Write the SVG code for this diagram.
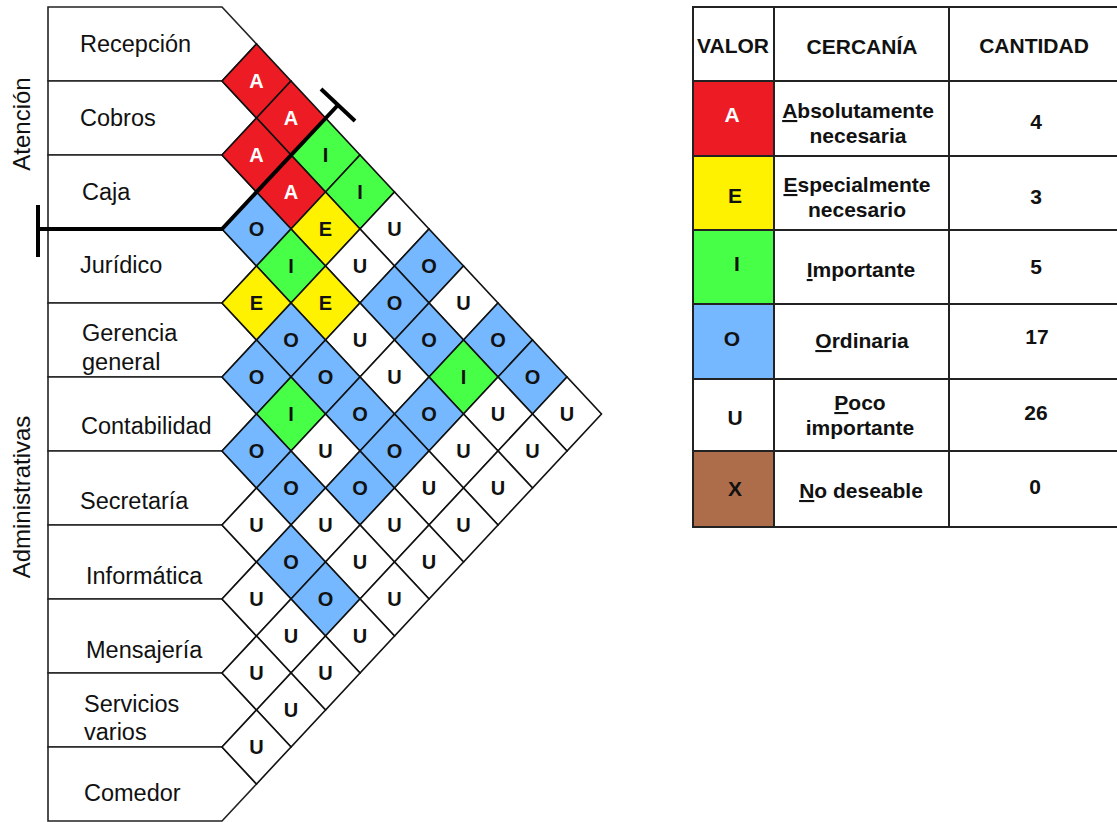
<svg xmlns="http://www.w3.org/2000/svg" xmlns:xlink="http://www.w3.org/1999/xlink" width="1117" height="822" viewBox="0 0 1117 822">
<style>
.row polygon{fill:#fff;stroke:#222;stroke-width:1.6}
.lbl{font-family:"Liberation Sans",Arial,sans-serif;font-size:23.5px;fill:#111}
.vl{font-family:"Liberation Sans",Arial,sans-serif;font-size:24px;fill:#111;text-anchor:middle}
.cell use{stroke:#111;stroke-width:1.6}
.cell text{font-family:"Liberation Sans",Arial,sans-serif;font-weight:bold;font-size:20px;text-anchor:middle;fill:#111}
.A use{fill:#ED1C24}.A text{fill:#fff}
.E use{fill:#FFF200}
.I use{fill:#47FF47}
.O use{fill:#75B8FF}
.U use{fill:#fff}
.br{stroke:#000;stroke-width:4;fill:none}
.tc{stroke:#222;stroke-width:2}
.th{font-family:"Liberation Sans",Arial,sans-serif;font-weight:bold;font-size:21px;text-anchor:middle;fill:#111}
.tw{fill:#fff}
</style>
<defs>
<polygon id="dm" points="-34.5,0 0,-37 34.5,0 0,37"/>
</defs>
<rect width="1117" height="822" fill="#fff"/>

<g id="rows">
<g id="row-recepcion" class="row"><polygon points="48,7 222,7 256.5,44 222,81 48,81"/><text class="lbl" x="80" y="52">Recepción</text></g>
<g id="row-cobros" class="row"><polygon points="48,81 222,81 256.5,118 222,155 48,155"/><text class="lbl" x="80" y="126">Cobros</text></g>
<g id="row-caja" class="row"><polygon points="48,155 222,155 256.5,192 222,229 48,229"/><text class="lbl" x="82" y="200">Caja</text></g>
<g id="row-juridico" class="row"><polygon points="48,229 222,229 256.5,266 222,303 48,303"/><text class="lbl" x="80" y="273">Jurídico</text></g>
<g id="row-gerencia" class="row"><polygon points="48,303 222,303 256.5,340 222,377 48,377"/><text class="lbl" x="82" y="341">Gerencia</text><text class="lbl" x="82" y="370">general</text></g>
<g id="row-contabilidad" class="row"><polygon points="48,377 222,377 256.5,414 222,451 48,451"/><text class="lbl" x="81" y="434">Contabilidad</text></g>
<g id="row-secretaria" class="row"><polygon points="48,451 222,451 256.5,488 222,525 48,525"/><text class="lbl" x="80" y="509">Secretaría</text></g>
<g id="row-informatica" class="row"><polygon points="48,525 222,525 256.5,562 222,599 48,599"/><text class="lbl" x="86" y="584">Informática</text></g>
<g id="row-mensajeria" class="row"><polygon points="48,599 222,599 256.5,636 222,673 48,673"/><text class="lbl" x="86" y="658">Mensajería</text></g>
<g id="row-servicios" class="row"><polygon points="48,673 222,673 256.5,710 222,747 48,747"/><text class="lbl" x="84" y="712">Servicios</text><text class="lbl" x="84" y="740">varios</text></g>
<g id="row-comedor" class="row"><polygon points="48,747 222,747 256.5,784 222,821 48,821"/><text class="lbl" x="84" y="801">Comedor</text></g>
</g>

<g id="group-labels">
<text class="vl" transform="translate(30,124) rotate(-90)">Atención</text>
<text class="vl" transform="translate(30,497) rotate(-90)">Administrativas</text>
</g>

<g id="cells">
<g id="r0-1" class="cell A" transform="translate(256.5,81)"><use href="#dm"/><text y="7">A</text></g>
<g id="r0-2" class="cell A" transform="translate(291,118)"><use href="#dm"/><text y="7">A</text></g>
<g id="r1-2" class="cell A" transform="translate(256.5,155)"><use href="#dm"/><text y="7">A</text></g>
<g id="r0-3" class="cell I" transform="translate(325.5,155)"><use href="#dm"/><text y="7">I</text></g>
<g id="r1-3" class="cell A" transform="translate(291,192)"><use href="#dm"/><text y="7">A</text></g>
<g id="r0-4" class="cell I" transform="translate(360,192)"><use href="#dm"/><text y="7">I</text></g>
<g id="r2-3" class="cell O" transform="translate(256.5,229)"><use href="#dm"/><text y="7">O</text></g>
<g id="r1-4" class="cell E" transform="translate(325.5,229)"><use href="#dm"/><text y="7">E</text></g>
<g id="r0-5" class="cell U" transform="translate(394.5,229)"><use href="#dm"/><text y="7">U</text></g>
<g id="r2-4" class="cell I" transform="translate(291,266)"><use href="#dm"/><text y="7">I</text></g>
<g id="r1-5" class="cell U" transform="translate(360,266)"><use href="#dm"/><text y="7">U</text></g>
<g id="r0-6" class="cell O" transform="translate(429,266)"><use href="#dm"/><text y="7">O</text></g>
<g id="r3-4" class="cell E" transform="translate(256.5,303)"><use href="#dm"/><text y="7">E</text></g>
<g id="r2-5" class="cell E" transform="translate(325.5,303)"><use href="#dm"/><text y="7">E</text></g>
<g id="r1-6" class="cell O" transform="translate(394.5,303)"><use href="#dm"/><text y="7">O</text></g>
<g id="r0-7" class="cell U" transform="translate(463.5,303)"><use href="#dm"/><text y="7">U</text></g>
<g id="r3-5" class="cell O" transform="translate(291,340)"><use href="#dm"/><text y="7">O</text></g>
<g id="r2-6" class="cell U" transform="translate(360,340)"><use href="#dm"/><text y="7">U</text></g>
<g id="r1-7" class="cell O" transform="translate(429,340)"><use href="#dm"/><text y="7">O</text></g>
<g id="r0-8" class="cell O" transform="translate(498,340)"><use href="#dm"/><text y="7">O</text></g>
<g id="r4-5" class="cell O" transform="translate(256.5,377)"><use href="#dm"/><text y="7">O</text></g>
<g id="r3-6" class="cell O" transform="translate(325.5,377)"><use href="#dm"/><text y="7">O</text></g>
<g id="r2-7" class="cell U" transform="translate(394.5,377)"><use href="#dm"/><text y="7">U</text></g>
<g id="r1-8" class="cell I" transform="translate(463.5,377)"><use href="#dm"/><text y="7">I</text></g>
<g id="r0-9" class="cell O" transform="translate(532.5,377)"><use href="#dm"/><text y="7">O</text></g>
<g id="r4-6" class="cell I" transform="translate(291,414)"><use href="#dm"/><text y="7">I</text></g>
<g id="r3-7" class="cell O" transform="translate(360,414)"><use href="#dm"/><text y="7">O</text></g>
<g id="r2-8" class="cell O" transform="translate(429,414)"><use href="#dm"/><text y="7">O</text></g>
<g id="r1-9" class="cell U" transform="translate(498,414)"><use href="#dm"/><text y="7">U</text></g>
<g id="r0-10" class="cell U" transform="translate(567,414)"><use href="#dm"/><text y="7">U</text></g>
<g id="r5-6" class="cell O" transform="translate(256.5,451)"><use href="#dm"/><text y="7">O</text></g>
<g id="r4-7" class="cell U" transform="translate(325.5,451)"><use href="#dm"/><text y="7">U</text></g>
<g id="r3-8" class="cell O" transform="translate(394.5,451)"><use href="#dm"/><text y="7">O</text></g>
<g id="r2-9" class="cell U" transform="translate(463.5,451)"><use href="#dm"/><text y="7">U</text></g>
<g id="r1-10" class="cell U" transform="translate(532.5,451)"><use href="#dm"/><text y="7">U</text></g>
<g id="r5-7" class="cell O" transform="translate(291,488)"><use href="#dm"/><text y="7">O</text></g>
<g id="r4-8" class="cell O" transform="translate(360,488)"><use href="#dm"/><text y="7">O</text></g>
<g id="r3-9" class="cell U" transform="translate(429,488)"><use href="#dm"/><text y="7">U</text></g>
<g id="r2-10" class="cell U" transform="translate(498,488)"><use href="#dm"/><text y="7">U</text></g>
<g id="r6-7" class="cell U" transform="translate(256.5,525)"><use href="#dm"/><text y="7">U</text></g>
<g id="r5-8" class="cell U" transform="translate(325.5,525)"><use href="#dm"/><text y="7">U</text></g>
<g id="r4-9" class="cell U" transform="translate(394.5,525)"><use href="#dm"/><text y="7">U</text></g>
<g id="r3-10" class="cell U" transform="translate(463.5,525)"><use href="#dm"/><text y="7">U</text></g>
<g id="r6-8" class="cell O" transform="translate(291,562)"><use href="#dm"/><text y="7">O</text></g>
<g id="r5-9" class="cell U" transform="translate(360,562)"><use href="#dm"/><text y="7">U</text></g>
<g id="r4-10" class="cell U" transform="translate(429,562)"><use href="#dm"/><text y="7">U</text></g>
<g id="r7-8" class="cell U" transform="translate(256.5,599)"><use href="#dm"/><text y="7">U</text></g>
<g id="r6-9" class="cell O" transform="translate(325.5,599)"><use href="#dm"/><text y="7">O</text></g>
<g id="r5-10" class="cell U" transform="translate(394.5,599)"><use href="#dm"/><text y="7">U</text></g>
<g id="r7-9" class="cell U" transform="translate(291,636)"><use href="#dm"/><text y="7">U</text></g>
<g id="r6-10" class="cell U" transform="translate(360,636)"><use href="#dm"/><text y="7">U</text></g>
<g id="r8-9" class="cell U" transform="translate(256.5,673)"><use href="#dm"/><text y="7">U</text></g>
<g id="r7-10" class="cell U" transform="translate(325.5,673)"><use href="#dm"/><text y="7">U</text></g>
<g id="r8-10" class="cell U" transform="translate(291,710)"><use href="#dm"/><text y="7">U</text></g>
<g id="r9-10" class="cell U" transform="translate(256.5,747)"><use href="#dm"/><text y="7">U</text></g>
</g>

<g id="connectors">
<polyline class="br" points="38,229 222,229 338,105"/>
<line class="br" x1="38" y1="205" x2="38" y2="257"/>
<line class="br" x1="321" y1="89" x2="355" y2="121"/>
</g>

<g id="legend">
<rect x="693" y="7" width="81" height="74" fill="#fff"/>
<rect x="693" y="81" width="81" height="75" fill="#ED1C24"/>
<rect x="693" y="156" width="81" height="74" fill="#FFF200"/>
<rect x="693" y="230" width="81" height="74" fill="#47FF47"/>
<rect x="693" y="304" width="81" height="75" fill="#75B8FF"/>
<rect x="693" y="451" width="81" height="76" fill="#AD6D4A"/>
<g class="tc">
<line x1="693" y1="7" x2="1118" y2="7"/>
<line x1="693" y1="81" x2="1118" y2="81"/>
<line x1="693" y1="156" x2="1118" y2="156"/>
<line x1="693" y1="230" x2="1118" y2="230"/>
<line x1="693" y1="304" x2="1118" y2="304"/>
<line x1="693" y1="379" x2="1118" y2="379"/>
<line x1="693" y1="451" x2="1118" y2="451"/>
<line x1="693" y1="527" x2="1118" y2="527"/>
<line x1="693" y1="6" x2="693" y2="528"/>
<line x1="774" y1="6" x2="774" y2="528"/>
<line x1="949" y1="6" x2="949" y2="528"/>
</g>
<text class="th" x="733" y="53">VALOR</text>
<text class="th" x="862" y="54">CERCANÍA</text>
<text class="th" x="1034" y="53">CANTIDAD</text>

<text class="th tw" x="732" y="122">A</text>
<text class="th" x="858" y="118"><tspan text-decoration="underline">A</tspan>bsolutamente</text>
<text class="th" x="858" y="143">necesaria</text>
<text class="th" x="1036" y="129">4</text>

<text class="th" x="735" y="203">E</text>
<text class="th" x="857" y="192"><tspan text-decoration="underline">E</tspan>specialmente</text>
<text class="th" x="857" y="217">necesario</text>
<text class="th" x="1036" y="204">3</text>

<text class="th" x="737" y="271">I</text>
<text class="th" x="861" y="277"><tspan text-decoration="underline">I</tspan>mportante</text>
<text class="th" x="1036" y="274">5</text>

<text class="th" x="732" y="346">O</text>
<text class="th" x="862" y="348"><tspan text-decoration="underline">O</tspan>rdinaria</text>
<text class="th" x="1037" y="344">17</text>

<text class="th" x="735" y="425">U</text>
<text class="th" x="860" y="410"><tspan text-decoration="underline">P</tspan>oco</text>
<text class="th" x="860" y="435">importante</text>
<text class="th" x="1036" y="420">26</text>

<text class="th" x="735" y="496">X</text>
<text class="th" x="861" y="498"><tspan text-decoration="underline">N</tspan>o deseable</text>
<text class="th" x="1035" y="494">0</text>
</g>
</svg>
